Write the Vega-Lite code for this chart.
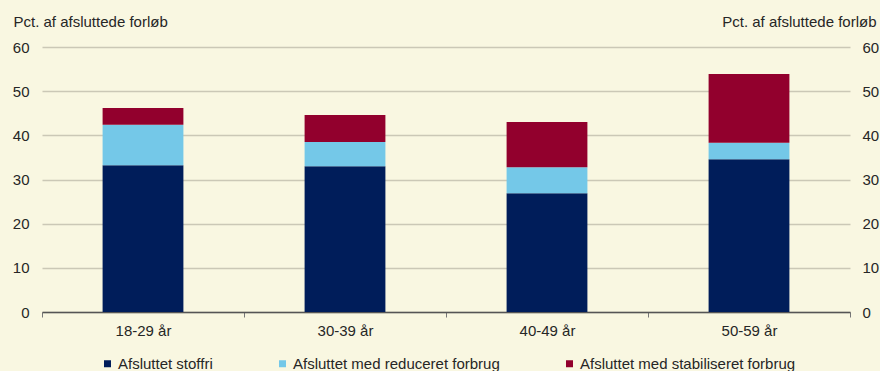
{
  "$schema": "https://vega.github.io/schema/vega-lite/v6.json",
  "autosize": {"type": "none"},
  "width": 808,
  "height": 265,
  "padding": {"left": 42, "top": 47, "right": 30, "bottom": 59},
  "background": "#F9F7E1",
  "config": {
    "view": {"stroke": null},
    "font": "Liberation Sans",
    "axis": {"labelFont": "Liberation Sans", "titleFont": "Liberation Sans", "labelColor": "#262626", "titleColor": "#262626"},
    "legend": {"labelFont": "Liberation Sans", "labelColor": "#262626"}
  },
  "data": {
    "values": [
      {"alder": "18-29 år", "status": "Afsluttet stoffri", "orden": 1, "pct": 33.2},
      {"alder": "18-29 år", "status": "Afsluttet med reduceret forbrug", "orden": 2, "pct": 9.2},
      {"alder": "18-29 år", "status": "Afsluttet med stabiliseret forbrug", "orden": 3, "pct": 3.8},
      {"alder": "30-39 år", "status": "Afsluttet stoffri", "orden": 1, "pct": 33.0},
      {"alder": "30-39 år", "status": "Afsluttet med reduceret forbrug", "orden": 2, "pct": 5.5},
      {"alder": "30-39 år", "status": "Afsluttet med stabiliseret forbrug", "orden": 3, "pct": 6.1},
      {"alder": "40-49 år", "status": "Afsluttet stoffri", "orden": 1, "pct": 26.9},
      {"alder": "40-49 år", "status": "Afsluttet med reduceret forbrug", "orden": 2, "pct": 5.9},
      {"alder": "40-49 år", "status": "Afsluttet med stabiliseret forbrug", "orden": 3, "pct": 10.2},
      {"alder": "50-59 år", "status": "Afsluttet stoffri", "orden": 1, "pct": 34.6},
      {"alder": "50-59 år", "status": "Afsluttet med reduceret forbrug", "orden": 2, "pct": 3.7},
      {"alder": "50-59 år", "status": "Afsluttet med stabiliseret forbrug", "orden": 3, "pct": 15.6}
    ]
  },
  "encoding": {
    "x": {
      "field": "alder",
      "type": "nominal",
      "sort": null,
      "scale": {"paddingInner": 0, "paddingOuter": 0},
      "axis": {
        "title": null,
        "labelAngle": 0,
        "labelFontSize": 15,
        "labelPadding": 6,
        "tickBand": "extent",
        "tickSize": 5,
        "tickColor": "#777777",
        "domainColor": "#555555",
        "domainWidth": 1.5,
        "grid": false
      }
    }
  },
  "layer": [
    {
      "mark": {"type": "bar", "width": {"band": 0.4}},
      "encoding": {
        "y": {
          "field": "pct",
          "type": "quantitative",
          "stack": "zero",
          "scale": {"domain": [0, 60], "nice": false},
          "axis": {
            "orient": "left",
            "values": [0, 10, 20, 30, 40, 50, 60],
            "title": "Pct. af afsluttede forløb",
            "titleAngle": 0,
            "titleAlign": "left",
            "titleBaseline": "middle",
            "titleX": -29,
            "titleY": -26,
            "titleFontSize": 15,
            "titleFontWeight": "normal",
            "labelFontSize": 15,
            "labelPadding": 13,
            "ticks": false,
            "domain": false,
            "grid": true,
            "gridColor": "#CBC8B6",
            "gridWidth": 1.5
          }
        },
        "color": {
          "field": "status",
          "type": "nominal",
          "scale": {
            "domain": ["Afsluttet stoffri", "Afsluttet med reduceret forbrug", "Afsluttet med stabiliseret forbrug"],
            "range": ["#001D5A", "#74C8E8", "#92002D"]
          },
          "legend": {
            "title": null,
            "orient": "none",
            "direction": "horizontal",
            "legendX": 58,
            "legendY": 309,
            "symbolType": "square",
            "symbolSize": 49,
            "symbolStrokeWidth": 0,
            "labelFontSize": 15,
            "labelLimit": 400,
            "labelOffset": 3,
            "columnPadding": 62
          }
        },
        "order": {"field": "orden", "type": "quantitative"}
      }
    },
    {
      "mark": {"type": "bar", "width": {"band": 0.4}, "opacity": 0},
      "encoding": {
        "y": {
          "field": "pct",
          "type": "quantitative",
          "stack": "zero",
          "scale": {"domain": [0, 60], "nice": false},
          "axis": {
            "orient": "right",
            "values": [0, 10, 20, 30, 40, 50, 60],
            "title": "Pct. af afsluttede forløb",
            "titleAngle": 0,
            "titleAlign": "right",
            "titleBaseline": "middle",
            "titleX": 26,
            "titleY": -26,
            "titleFontSize": 15,
            "titleFontWeight": "normal",
            "labelFontSize": 15,
            "labelPadding": 12,
            "ticks": false,
            "domain": false,
            "grid": false
          }
        },
        "order": {"field": "orden", "type": "quantitative"}
      }
    }
  ],
  "resolve": {"axis": {"y": "independent"}}
}
